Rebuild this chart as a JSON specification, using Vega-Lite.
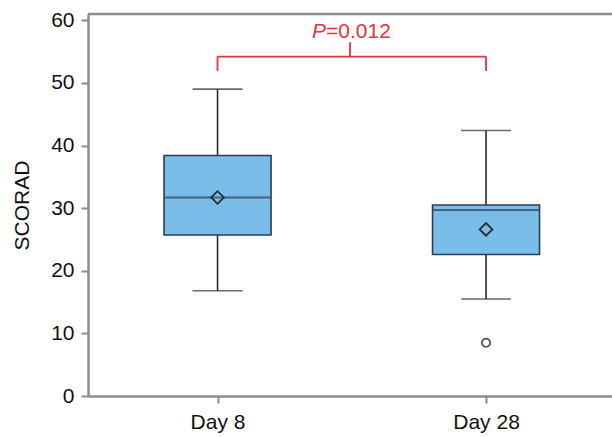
{
  "$schema": "https://vega.github.io/schema/vega-lite/v6.json",
  "width": 524,
  "height": 382,
  "autosize": {"type": "none"},
  "padding": {"left": 88, "top": 14, "right": 0, "bottom": 41},
  "background": "white",
  "config": {
    "view": {"stroke": null},
    "font": "Liberation Sans",
    "axis": {
      "domainColor": "#8c8c8c",
      "domainWidth": 2.5,
      "tickColor": "#8c8c8c",
      "tickWidth": 2,
      "tickSize": 7,
      "labelFont": "Liberation Sans",
      "labelFontSize": 21,
      "labelColor": "#111111",
      "grid": false,
      "titleFont": "Liberation Sans",
      "titleFontSize": 21,
      "titleFontWeight": "normal",
      "titleColor": "#111111"
    }
  },
  "datasets": {
    "stats": [
      {"day": "Day 8", "min": 16.8, "q1": 25.7, "median": 31.7, "q3": 38.4, "max": 49.0, "mean": 31.7},
      {"day": "Day 28", "min": 15.5, "q1": 22.6, "median": 29.7, "q3": 30.5, "max": 42.4, "mean": 26.6}
    ],
    "outliers": [
      {"day": "Day 28", "value": 8.5}
    ],
    "bracket": [
      {"from": "Day 8", "to": "Day 28", "y": 54.2, "tip": 51.9, "stem": 56.5, "label": 58.1}
    ],
    "bracketEnds": [
      {"day": "Day 8", "tip": 51.9, "y": 54.2},
      {"day": "Day 28", "tip": 51.9, "y": 54.2}
    ]
  },
  "layer": [
    {
      "data": {"name": "stats"},
      "mark": {"type": "rule", "color": "#2b2b2b", "strokeWidth": 1.6},
      "encoding": {
        "x": {
          "field": "day",
          "type": "nominal",
          "scale": {"type": "point", "domain": ["Day 8", "Day 28"], "padding": 0.4758, "align": 0.507},
          "axis": {"title": null, "labelAngle": 0, "labelPadding": 8}
        },
        "y": {
          "field": "min",
          "type": "quantitative",
          "scale": {"domain": [0, 61], "nice": false, "zero": true},
          "axis": {"title": "SCORAD", "values": [0, 10, 20, 30, 40, 50, 60], "labelPadding": 7, "titlePadding": 18}
        },
        "y2": {"field": "max"}
      }
    },
    {
      "data": {"name": "stats"},
      "mark": {"type": "tick", "color": "#2b2b2b", "thickness": 1.6, "size": 50},
      "encoding": {
        "x": {"field": "day", "type": "nominal"},
        "y": {"field": "min", "type": "quantitative"}
      }
    },
    {
      "data": {"name": "stats"},
      "mark": {"type": "tick", "color": "#2b2b2b", "thickness": 1.6, "size": 50},
      "encoding": {
        "x": {"field": "day", "type": "nominal"},
        "y": {"field": "max", "type": "quantitative"}
      }
    },
    {
      "data": {"name": "stats"},
      "mark": {"type": "bar", "width": 107, "fill": "#7bbde9", "stroke": "#2c3e50", "strokeWidth": 1.6},
      "encoding": {
        "x": {"field": "day", "type": "nominal"},
        "y": {"field": "q1", "type": "quantitative"},
        "y2": {"field": "q3"}
      }
    },
    {
      "data": {"name": "stats"},
      "mark": {"type": "tick", "color": "#2c3e50", "thickness": 2.2, "size": 106},
      "encoding": {
        "x": {"field": "day", "type": "nominal"},
        "y": {"field": "median", "type": "quantitative"}
      }
    },
    {
      "data": {"name": "stats"},
      "mark": {"type": "point", "shape": "diamond", "size": 160, "filled": false, "stroke": "#1f2d3d", "strokeWidth": 1.8, "opacity": 1},
      "encoding": {
        "x": {"field": "day", "type": "nominal"},
        "y": {"field": "mean", "type": "quantitative"}
      }
    },
    {
      "data": {"name": "outliers"},
      "mark": {"type": "point", "shape": "circle", "size": 70, "filled": false, "stroke": "#555555", "strokeWidth": 1.8, "opacity": 1},
      "encoding": {
        "x": {"field": "day", "type": "nominal"},
        "y": {"field": "value", "type": "quantitative"}
      }
    },
    {
      "data": {"values": [{"top": 61}]},
      "mark": {"type": "rule", "color": "#8c8c8c", "strokeWidth": 2.5},
      "encoding": {
        "y": {"field": "top", "type": "quantitative"}
      }
    },
    {
      "data": {"name": "bracket"},
      "mark": {"type": "rule", "color": "#e8313c", "strokeWidth": 1.8},
      "encoding": {
        "x": {"field": "from", "type": "nominal"},
        "x2": {"field": "to"},
        "y": {"field": "y", "type": "quantitative"}
      }
    },
    {
      "data": {"name": "bracketEnds"},
      "mark": {"type": "rule", "color": "#e8313c", "strokeWidth": 1.8},
      "encoding": {
        "x": {"field": "day", "type": "nominal"},
        "y": {"field": "tip", "type": "quantitative"},
        "y2": {"field": "y"}
      }
    },
    {
      "data": {"name": "bracket"},
      "mark": {"type": "rule", "color": "#e8313c", "strokeWidth": 1.8},
      "encoding": {
        "y": {"field": "y", "type": "quantitative"},
        "y2": {"field": "stem"}
      }
    },
    {
      "data": {"name": "bracket"},
      "mark": {"type": "text", "text": "P", "fontStyle": "italic", "fontSize": 21, "color": "#e8313c", "align": "right", "baseline": "middle", "dx": -24},
      "encoding": {
        "y": {"field": "label", "type": "quantitative"}
      }
    },
    {
      "data": {"name": "bracket"},
      "mark": {"type": "text", "text": "=0.012", "fontSize": 21, "color": "#e8313c", "align": "left", "baseline": "middle", "dx": -24},
      "encoding": {
        "y": {"field": "label", "type": "quantitative"}
      }
    }
  ]
}
